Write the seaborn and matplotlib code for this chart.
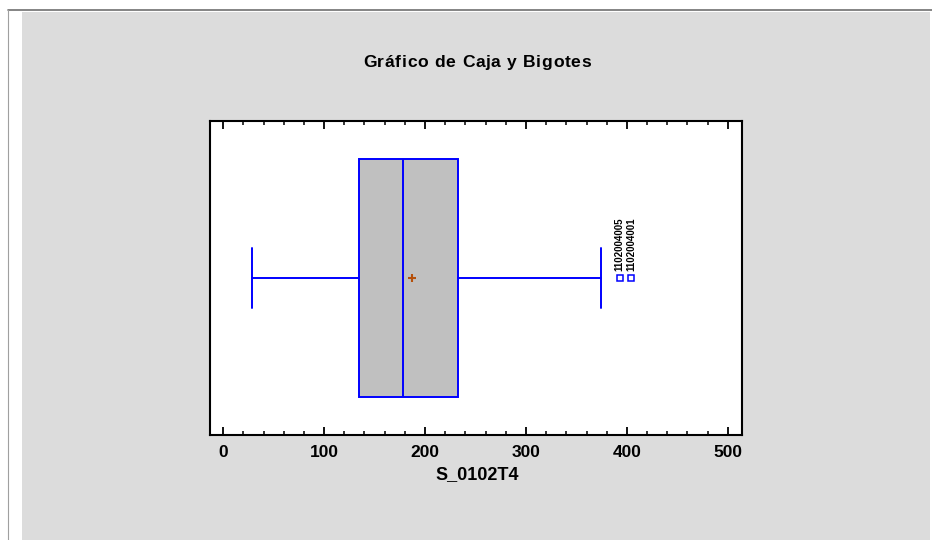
import matplotlib
matplotlib.use("Agg")
import matplotlib.pyplot as plt
from matplotlib.patches import Rectangle
from matplotlib.lines import Line2D
from matplotlib.ticker import MultipleLocator
import seaborn as sns

# ---- data ----
variable = "S_0102T4"
whisker_low = 28.7
q1 = 134.7
median = 178.0
q3 = 232.7
whisker_high = 374.0
mean_value = 187.0
outlier_values = [393.0, 404.0]
outlier_labels = ["1102004005", "1102004001"]
title_text = "Gráfico de Caja y Bigotes"
x_ticks = [0, 100, 200, 300, 400, 500]

sns.set_theme(style="white")
plt.rcParams['font.family'] = ['Liberation Sans', 'DejaVu Sans']
plt.rcParams['text.color'] = 'black'
plt.rcParams['xtick.color'] = 'black'

fig = plt.figure(figsize=(9.32, 5.40), dpi=100)
fig.patch.set_facecolor("white")
W, H = 932, 540
# gray panel and frame lines
fig.patches.append(Rectangle((22 / W, 0), (930 - 22) / W, 1 - 12 / H,
                             transform=fig.transFigure, facecolor="#DCDCDC",
                             edgecolor="none", zorder=-10))
fig.lines.append(Line2D([8 / W, 1], [1 - 9.5 / H, 1 - 9.5 / H], transform=fig.transFigure,
                        color="#707070", lw=1.2, zorder=-9))
fig.lines.append(Line2D([8 / W, 8 / W], [0, 1 - 9.5 / H], transform=fig.transFigure,
                        color="#A0A0A0", lw=0.8, zorder=-9))

ax = fig.add_axes([210 / W, 1 - 435 / H, (742 - 210) / W, (435 - 121) / H])
ax.set_zorder(5)
ax.set_facecolor("white")

stats = [dict(med=median, q1=q1, q3=q3, whislo=whisker_low, whishi=whisker_high,
              mean=mean_value, fliers=outlier_values, label=variable)]
blue = "#0000FF"
ax.bxp(stats, positions=[0], widths=1.516, vert=False, patch_artist=True,
       showmeans=True, showfliers=True, capwidths=[0.382],
       boxprops=dict(facecolor="#C0C0C0", edgecolor=blue, linewidth=1.4),
       medianprops=dict(color=blue, linewidth=1.4),
       whiskerprops=dict(color=blue, linewidth=1.4),
       capprops=dict(color=blue, linewidth=1.4),
       meanprops=dict(marker="+", markeredgecolor="#B5500B", markersize=6, markeredgewidth=1.5),
       flierprops=dict(marker="s", markerfacecolor="none", markeredgecolor=blue,
                       markersize=4.5, markeredgewidth=1.1))

for xv, lab in zip(outlier_values, outlier_labels):
    ax.annotate(lab, (xv, 0), xytext=(0, 5), textcoords="offset points",
                rotation=90, ha="center", va="bottom", fontsize=7,
                fontweight="bold", color="black")

ax.set_xlim(-13, 514)
ax.set_ylim(-1, 1)
ax.set_yticks([])
ax.set_xticks(x_ticks)
ax.xaxis.set_minor_locator(MultipleLocator(20))
ax.tick_params(axis="x", which="major", direction="in", length=6, width=1.3,
               top=True, bottom=True, labelsize=12.5, pad=7, colors="black")
ax.tick_params(axis="x", which="minor", direction="in", length=3, width=1.1,
               top=True, bottom=True, colors="black")
for lab in ax.get_xticklabels():
    lab.set_fontweight("bold")
for sp in ax.spines.values():
    sp.set_visible(True)
    sp.set_color("black")
    sp.set_linewidth(1.5)


def spaced_text(s, cx_px, base_px, total_px, size):
    """Draw letter-spaced text centred at cx_px (pixels), baseline at base_px from top."""
    renderer = fig.canvas.get_renderer()

    def width(t):
        if not t:
            return 0.0
        tt = fig.text(0, 0, t + "|", fontsize=size, fontweight="bold")
        w = tt.get_window_extent(renderer).width
        tt.remove()
        tb = fig.text(0, 0, "|", fontsize=size, fontweight="bold")
        wb = tb.get_window_extent(renderer).width
        tb.remove()
        return w - wb

    full = width(s)
    sp = (total_px - full) / max(len(s) - 1, 1)
    x0 = cx_px - total_px / 2
    for i, ch in enumerate(s):
        if ch == " ":
            continue
        x = x0 + width(s[:i]) + i * sp
        fig.text(x / W, 1 - base_px / H, ch, ha="left", va="baseline",
                 fontsize=size, fontweight="bold", color="black")


spaced_text(title_text, 477, 67, 228, 12.6)
fig.text(477 / W, 1 - 479 / H, variable, ha="center", va="baseline",
         fontsize=13, fontweight="bold", color="black")

fig.savefig("out.png", dpi=100)
